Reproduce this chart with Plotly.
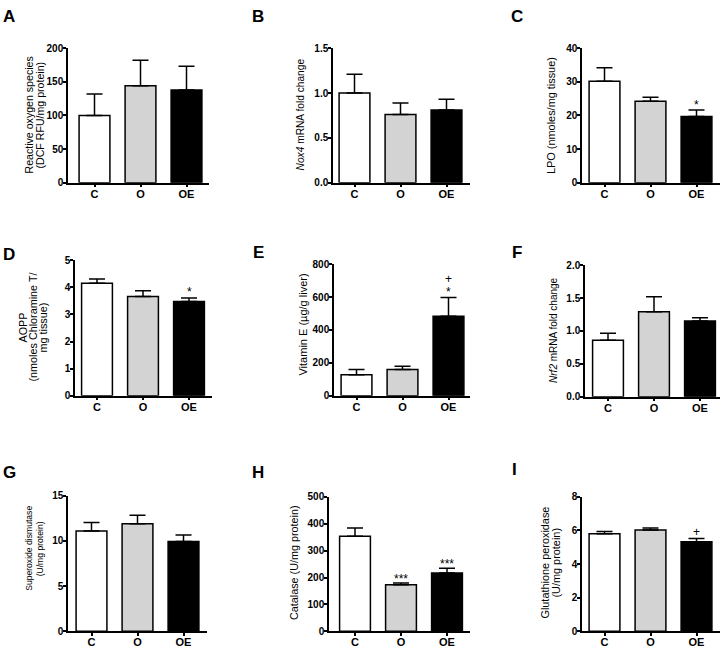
import plotly.graph_objects as go

W, H = 722, 653

groups = ["C", "O", "OE"]
bar_colors = ["#ffffff", "#d3d3d3", "#000000"]

# Panel data: means and upper error bar tops (mean + SEM)
A_mean = [100, 144, 138]
A_top = [132, 182, 173]
B_mean = [1.00, 0.76, 0.81]
B_top = [1.21, 0.89, 0.93]
C_mean = [30.2, 24.2, 19.7]
C_top = [34.2, 25.4, 21.6]
D_mean = [4.15, 3.66, 3.48]
D_top = [4.31, 3.87, 3.61]
E_mean = [127, 159, 484]
E_top = [159, 179, 597]
F_mean = [0.86, 1.29, 1.15]
F_top = [0.965, 1.52, 1.20]
G_mean = [11.1, 11.9, 9.95]
G_top = [12.05, 12.85, 10.65]
H_mean = [353, 173, 217]
H_top = [384, 180, 234]
I_mean = [5.80, 6.03, 5.32]
I_top = [5.93, 6.14, 5.52]

y_max = [200, 1.5, 40, 5, 800, 2.0, 15, 500, 8]
y_dtick = [50, 0.5, 10, 1, 200, 0.5, 5, 100, 2]
y_fmt = ["", ".1f", "", "", "", ".1f", "", "", ""]

panel_letters = ["A", "B", "C", "D", "E", "F", "G", "H", "I"]
y_titles = [
    ["Reactive oxygen species", "(DCF RFU/mg protein)"],
    ["<i>Nox4</i> mRNA fold change"],
    ["LPO (nmoles/mg tissue)"],
    ["AOPP", "(nmoles Chloramine T/", "mg tissue)"],
    ["Vitamin E (µg/g liver)"],
    ["<i>Nrf2</i> mRNA fold change"],
    ["Superoxide dismutase", "(U/mg protein)"],
    ["Catalase (U/mg protein)"],
    ["Glutathione peroxidase", "(U/mg protein)"],
]
# significance marks: (panel index, group index, text)
sig_marks = [
    (2, 2, "*"),
    (3, 2, "*"),
    (4, 2, "*"),
    (4, 2, "+"),
    (7, 1, "***"),
    (7, 2, "***"),
    (8, 2, "+"),
]
# pixel lift of each mark above its error bar
sig_lift = [5, 6, 6, 19, 4, 4, 7]

means = [A_mean, B_mean, C_mean, D_mean, E_mean, F_mean, G_mean, H_mean, I_mean]
tops = [A_top, B_top, C_top, D_top, E_top, F_top, G_top, H_top, I_top]

# layout geometry in pixels
# (axis left, axis right, C-bar center, y top px, y zero px, letter x, letter y)
geom = [
    (68, 209, 94.5, 43, 180, 9, 11),
    (333, 470, 354.5, 43, 180, 258, 11),
    (582, 720, 604.5, 43, 180, 517, 11),
    (75, 212, 97, 259, 397, 9, 253),
    (334, 470, 356.5, 263, 397, 258, 251),
    (585, 720, 608, 264, 398, 517, 251),
    (68, 207, 91.5, 499, 637, 9, 475),
    (329, 470, 355, 500, 637, 258, 475),
    (582, 720, 604.5, 500, 637, 514, 472),
]
# y-title line centres (x px for each line), vertical centre, font size
title_x = [[28.5, 39.5], [300.5], [551.5], [23, 33, 43], [303.5], [554], [29, 39.5], [294], [545, 556]]
title_y = [111, 111, 111.5, 327.5, 325, 330, 553, 567.5, 567]
title_size = [10.6, 10.2, 10.9, 10.8, 11, 10, 8.6, 10.8, 10.9]
spacing = 46.0

FONT = "Arial, Liberation Sans, sans-serif"

fig = go.Figure()
layout = dict(
    width=W, height=H,
    margin=dict(l=0, r=0, t=0, b=0),
    paper_bgcolor="white", plot_bgcolor="white",
    showlegend=False,
    font=dict(family=FONT, color="black"),
    annotations=[],
)

for i in range(9):
    n = "" if i == 0 else str(i + 1)
    xa, ya = "x" + n, "y" + n
    x0, x1, c0, ytop, yzero, lx, ly = geom[i]
    m = means[i]
    err = [t - v for t, v in zip(tops[i], m)]
    fig.add_trace(go.Bar(
        x=[0, 1, 2], y=m, width=0.67,
        marker=dict(color=bar_colors, line=dict(color="black", width=1.5)),
        error_y=dict(type="data", symmetric=False, array=err, arrayminus=[0, 0, 0],
                     color="black", thickness=1.5, width=8),
        xaxis=xa, yaxis=ya, cliponaxis=False,
    ))
    layout["xaxis" + n] = dict(
        domain=[x0 / W, x1 / W], anchor=ya,
        range=[(x0 - c0) / spacing, (x1 - c0) / spacing],
        tickmode="array", tickvals=[0, 1, 2], ticktext=groups,
        ticks="outside", ticklen=3, tickwidth=1.5, tickcolor="black",
        ticklabelstandoff=-3,
        showline=True, linecolor="black", linewidth=1.5,
        showgrid=False, zeroline=False,
        tickfont=dict(family=FONT, size=11, color="black", weight="bold"),
        fixedrange=True,
    )
    layout["yaxis" + n] = dict(
        domain=[1 - yzero / H, 1 - ytop / H], anchor=xa,
        range=[0, y_max[i]], dtick=y_dtick[i], tickformat=y_fmt[i],
        ticks="outside", ticklen=3, tickwidth=1.5, tickcolor="black",
        ticklabelstandoff=-2,
        showline=True, linecolor="black", linewidth=1.5,
        showgrid=False, zeroline=False,
        tickfont=dict(family=FONT, size=10, color="black", weight="bold"),
        fixedrange=True,
    )
    for line, tx in zip(y_titles[i], title_x[i]):
        layout["annotations"].append(dict(
            x=tx / W, y=1 - title_y[i] / H, xref="paper", yref="paper",
            text=line, textangle=-90, showarrow=False,
            font=dict(family=FONT, size=title_size[i], color="black"),
            xanchor="center", yanchor="middle",
        ))
    layout["annotations"].append(dict(
        x=lx / W, y=1 - ly / H, xref="paper", yref="paper",
        text="<b>" + panel_letters[i] + "</b>", showarrow=False,
        font=dict(family=FONT, size=17, color="black"),
        xanchor="center", yanchor="middle",
    ))

for (p, g, txt), lift in zip(sig_marks, sig_lift):
    n = "" if p == 0 else str(p + 1)
    layout["annotations"].append(dict(
        x=g, y=tops[p][g], xref="x" + n, yref="y" + n,
        text=txt, showarrow=False, yshift=lift,
        font=dict(family=FONT, size=12, color="black"),
        xanchor="center", yanchor="middle",
    ))

fig.update_layout(**layout)
fig.write_html(
    "out.html",
    config={"displayModeBar": False},
    post_script="document.body.style.margin='0';document.body.style.overflow='hidden';",
)
